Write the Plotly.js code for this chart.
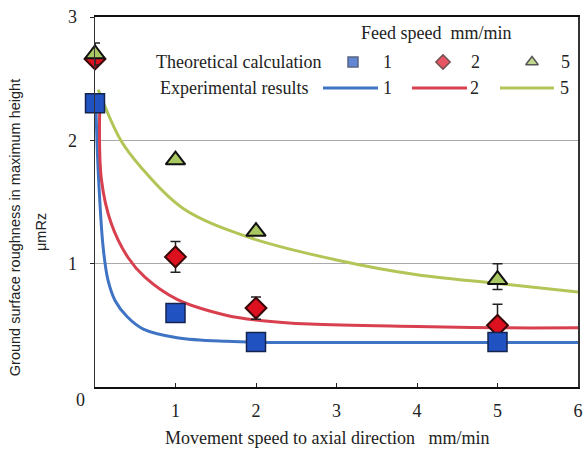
<!DOCTYPE html>
<html>
<head>
<meta charset="utf-8">
<script src="https://cdn.plot.ly/plotly-3.0.1.min.js"></script>
<style>html,body{margin:0;padding:0;background:#fff;}#chart{width:583px;height:452px;}</style>
</head>
<body>
<div id="chart"></div>
<script>
// Experimental points (markers)
var sqX = [0, 1, 2, 5];
var sqY = [2.3, 0.6, 0.365, 0.365];
var diaX = [0, 1, 2, 5];
var diaY = [2.66, 1.055, 0.64, 0.5];
var diaErr = [0.0, 0.125, 0.09, 0.17];
var triX = [0, 1, 2, 5];
var triY = [2.7, 1.84, 1.26, 0.87];
var triErrPlus = [0.09, 0, 0, 0.13];
var triErrMinus = [0.09, 0, 0, 0.08];

// Calculated curves
var blueX = [0.01, 0.04, 0.1, 0.16, 0.25, 0.4, 0.6, 1.02, 1.64, 2.5, 4, 6];
var blueY = [2.3, 1.75, 1.14, 0.87, 0.7, 0.57, 0.47, 0.4, 0.37, 0.36, 0.36, 0.36];
var redX = [0.058, 0.08, 0.2, 0.41, 0.62, 1.02, 1.64, 2.05, 2.67, 4, 5, 6];
var redY = [2.25, 1.68, 1.33, 1.05, 0.89, 0.71, 0.58, 0.54, 0.51, 0.49, 0.48, 0.48];
var greenX = [0.04, 0.32, 0.56, 1.09, 1.93, 3.0, 4.0, 5.0, 6.0];
var greenY = [2.41, 2.0, 1.79, 1.45, 1.21, 1.03, 0.91, 0.84, 0.77];

var xTicks = [1, 2, 3, 4, 5, 6];
var yTicks = [1, 2, 3];

var cBlueLine = '#3f74c4', cRedLine = '#d8404f', cGreenLine = '#b2c657';
var cSq = '#2152c2', cDia = '#dd1020', cTri = '#a9c862';

var serif = 'Liberation Serif, Times New Roman, serif';

var traces = [
  {x: blueX, y: blueY, mode: 'lines', line: {color: cBlueLine, width: 3, shape: 'spline', smoothing: 1}, hoverinfo: 'skip'},
  {x: redX, y: redY, mode: 'lines', line: {color: cRedLine, width: 3, shape: 'spline', smoothing: 1}, hoverinfo: 'skip'},
  {x: greenX, y: greenY, mode: 'lines', line: {color: cGreenLine, width: 3, shape: 'spline', smoothing: 1}, hoverinfo: 'skip'},
  {x: diaX, y: diaY, mode: 'markers', cliponaxis: false,
   marker: {symbol: 'diamond', size: 16, color: cDia, line: {color: '#3a0808', width: 2}},
   error_y: {type: 'data', array: diaErr, visible: true, color: '#222', thickness: 1.5, width: 5}},
  {x: sqX, y: sqY, mode: 'markers', cliponaxis: false,
   marker: {symbol: 'square', size: 19, color: cSq, line: {color: '#14244f', width: 1.5}}},
  {x: triX, y: triY, mode: 'markers', cliponaxis: false,
   marker: {symbol: 'triangle-up', size: 17, color: cTri, line: {color: '#111', width: 2}},
   error_y: {type: 'data', array: triErrPlus, arrayminus: triErrMinus, visible: true, color: '#222', thickness: 1.5, width: 5}},
  // legend symbols (decoration, on pixel-like overlay axes)
  {x: [353, 443, 532], y: [62, 62, 62], xaxis: 'x2', yaxis: 'y2', mode: 'markers', cliponaxis: false,
   marker: {symbol: ['square', 'diamond', 'triangle-up'], size: [10, 11, 11], color: [cSq, cDia, cTri],
            line: {color: ['#14244f', '#3a0808', '#111'], width: 1.5}}, hoverinfo: 'skip'}
];

var legendLines = [[323, 378, cBlueLine], [412, 467, cRedLine], [500, 554, cGreenLine]];
var shapes = legendLines.map(function (l) {
  return {type: 'line', xref: 'x2', yref: 'y2', x0: l[0], x1: l[1], y0: 88, y1: 88, line: {color: l[2], width: 3}};
});

function txt(x, y, t, opts) {
  var a = {xref: 'x2', yref: 'y2', x: x, y: y, text: t, showarrow: false,
           font: {family: serif, size: 18, color: '#222'}, xanchor: 'center', yanchor: 'middle'};
  for (var k in opts) a[k] = opts[k];
  return a;
}

var annotations = [
  txt(436, 33, 'Feed speed&nbsp;&nbsp;mm/min'),
  txt(238, 62, 'Theoretical calculation'),
  txt(234, 88, 'Experimental results'),
  txt(387, 62, '1'), txt(475, 62, '2'), txt(565, 62, '5'),
  txt(387, 88, '1'), txt(474, 88, '2'), txt(564, 88, '5'),
  {xref: 'paper', yref: 'paper', x: -0.031, y: -0.035, text: '0', showarrow: false,
   font: {family: serif, size: 18, color: '#222'}, xanchor: 'center', yanchor: 'middle'},
  {xref: 'paper', yref: 'paper', x: -0.165, y: 0.43, text: 'Ground surface roughness in maximum height', textangle: -90,
   showarrow: false, font: {family: 'Liberation Sans, Arial, sans-serif', size: 14.5, color: '#222'}, xanchor: 'center', yanchor: 'middle'},
  {xref: 'paper', yref: 'paper', x: -0.113, y: 0.42, text: 'μmRz', textangle: -90,
   showarrow: false, font: {family: 'Liberation Sans, Arial, sans-serif', size: 14.5, color: '#222'}, xanchor: 'center', yanchor: 'middle'},
  {xref: 'paper', yref: 'paper', x: 0.48, y: -0.137, text: 'Movement speed to axial direction&nbsp;&nbsp;&nbsp;mm/min', showarrow: false,
   font: {family: serif, size: 18, color: '#222'}, xanchor: 'center', yanchor: 'middle'}
];

var layout = {
  width: 583, height: 452,
  margin: {l: 95, r: 5, t: 17, b: 65},
  paper_bgcolor: '#fff', plot_bgcolor: '#fff',
  showlegend: false,
  font: {family: serif, size: 18, color: '#222'},
  xaxis: {range: [0, 6], tickvals: xTicks, ticktext: xTicks.map(String), ticks: 'inside', ticklen: 4, tickcolor: '#222',
          showgrid: false, zeroline: false, showline: true, linecolor: '#111', linewidth: 2, mirror: true,
          ticklabelstandoff: 6},
  yaxis: {range: [0, 3], tickvals: yTicks, ticktext: yTicks.map(String), ticks: 'outside', ticklen: 4, tickcolor: '#222',
          showgrid: true, gridcolor: '#aaaaaa', gridwidth: 1, zeroline: false, showline: true, linecolor: '#333', linewidth: 1.5, mirror: true,
          ticklabelstandoff: 9},
  xaxis2: {range: [95, 578], overlaying: 'x', visible: false, fixedrange: true},
  yaxis2: {range: [387, 17], overlaying: 'y', visible: false, fixedrange: true},
  shapes: shapes,
  annotations: annotations
};

Plotly.newPlot('chart', traces, layout, {displayModeBar: false, staticPlot: true});
</script>
</body>
</html>
